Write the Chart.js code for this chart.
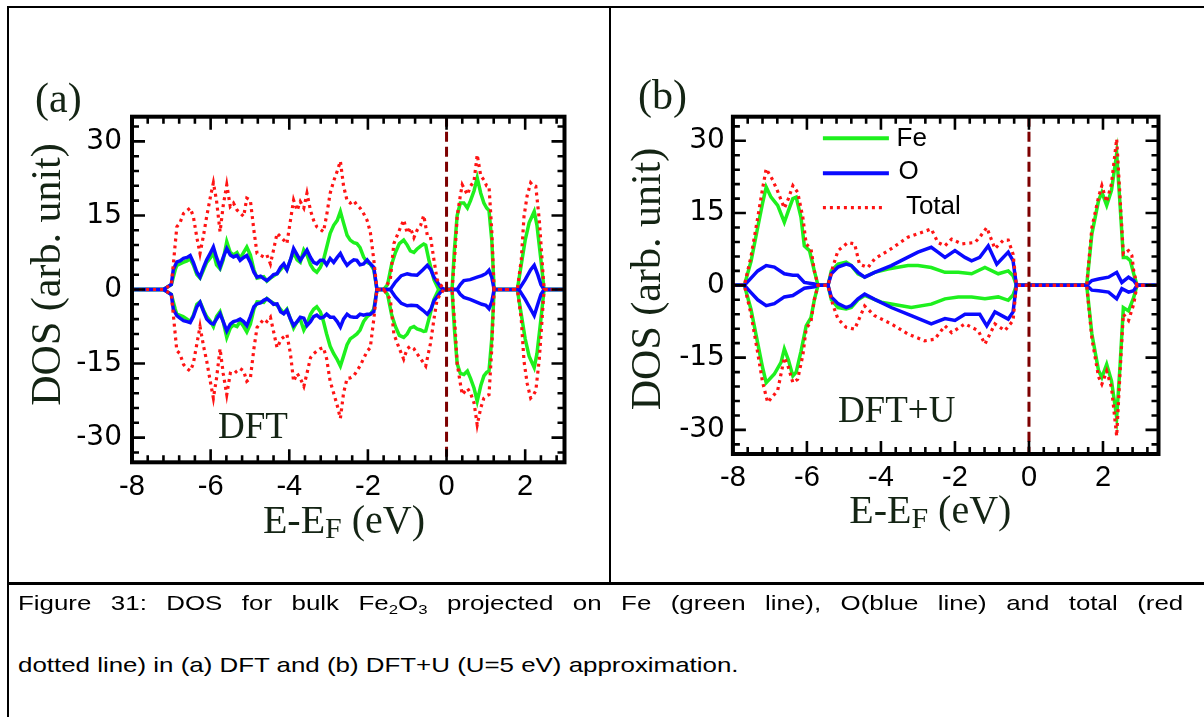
<!DOCTYPE html>
<html><head><meta charset="utf-8">
<script src="https://cdn.jsdelivr.net/npm/chart.js@4.4.1/dist/chart.umd.min.js"></script>
<style>
html,body{margin:0;padding:0;background:#fff;width:1204px;height:717px;overflow:hidden;position:relative;}
canvas{position:absolute;top:0;}
.ln{position:absolute;background:#000;}
.pl{position:absolute;font-family:"Liberation Serif","Times New Roman",serif;font-size:42px;line-height:42px;color:#142414;white-space:nowrap;}
.cap{position:absolute;left:17.7px;font-family:"Liberation Sans",Arial,sans-serif;font-size:21px;line-height:21px;color:#000;white-space:nowrap;transform:scaleX(1.233);transform-origin:0 0;}
.cap sub{font-size:13.6px;line-height:0;vertical-align:-3.5px;}
</style></head><body>
<canvas id="ca" width="608" height="582" style="left:0"></canvas>
<canvas id="cb" width="594" height="582" style="left:610px"></canvas>
<div class="ln" style="left:7px;top:6px;width:1197px;height:2px"></div>
<div class="ln" style="left:7px;top:6px;width:2px;height:711px"></div>
<div class="ln" style="left:608.5px;top:6px;width:2.5px;height:578px"></div>
<div class="ln" style="left:7px;top:582px;width:1197px;height:3px"></div>
<div class="pl" style="left:35px;top:77px">(a)</div>
<div class="pl" style="left:638px;top:74px">(b)</div>
<div class="cap" style="top:591.7px;width:945px;white-space:normal;text-align:justify;text-align-last:justify">Figure 31: DOS for bulk Fe<sub>2</sub>O<sub>3</sub> projected on Fe (green line), O(blue line) and total (red</div>
<div class="cap" style="top:653.7px">dotted line) in (a) DFT and (b) DFT+U (U=5 eV) approximation.</div>
<script>
// ---------------- data ----------------
const SERIES_NAMES = ['Fe', 'O', 'Total'];
const X_TICKS = [-8, -6, -4, -2, 0, 2];
const Y_TICKS = [-30, -15, 0, 15, 30];
const FERMI_LEVEL = 0;

// panel (a) DFT : [energy (eV), DOS]
const A_TOT_UP = [[-8,0],[-7.2,0],[-7.0,1],[-6.95,5],[-6.86,12.7],[-6.78,13.5],[-6.69,15.4],[-6.6,16],[-6.52,16.5],[-6.44,14.8],[-6.35,10.5],[-6.27,7.3],[-6.18,11],[-6.1,14.8],[-6.0,19],[-5.93,21.6],[-5.85,18],[-5.76,11.7],[-5.68,17],[-5.59,21.2],[-5.5,16.8],[-5.42,17.5],[-5.33,16.1],[-5.25,15.5],[-5.16,14.8],[-5.08,18.5],[-4.99,18.1],[-4.9,12],[-4.82,7.3],[-4.65,6.6],[-4.57,7],[-4.48,5.2],[-4.4,8],[-4.31,11.4],[-4.2,10.5],[-4.14,10],[-4.06,9.3],[-3.97,14],[-3.89,18.1],[-3.8,16],[-3.72,17.8],[-3.63,16.5],[-3.55,19.5],[-3.46,16],[-3.38,14],[-3.3,12.7],[-3.21,12.2],[-3.13,11.7],[-3.05,15],[-2.96,19.5],[-2.87,22],[-2.78,24],[-2.7,26],[-2.62,21],[-2.53,18],[-2.45,17.5],[-2.36,18],[-2.28,17.1],[-2.2,16.5],[-2.11,15.4],[-2.02,14],[-1.94,11.7],[-1.85,6],[-1.77,0],[-1.6,0],[-1.43,2],[-1.34,9.3],[-1.2,12],[-1.09,14.1],[-1.0,11.4],[-0.92,12.5],[-0.83,10.5],[-0.75,12],[-0.66,13],[-0.58,15],[-0.49,11],[-0.41,10.7],[-0.32,6],[-0.24,2],[-0.07,0],[0.14,0],[0.22,8],[0.27,14.8],[0.35,19],[0.4,21.2],[0.48,20],[0.53,19.2],[0.61,20.9],[0.7,22],[0.78,27.3],[0.87,23],[0.95,22.2],[1.02,21],[1.08,20.9],[1.15,12],[1.21,0],[1.8,0],[1.9,6],[1.97,14.8],[2.05,19],[2.14,21.6],[2.2,21],[2.27,20.9],[2.36,14],[2.43,6],[2.48,0],[3,0]];
const A_TOT_DN = [[-8,0],[-7.2,0],[-7.0,-1],[-6.95,-5],[-6.86,-12.4],[-6.78,-13],[-6.69,-15.2],[-6.6,-16],[-6.52,-16.5],[-6.44,-15],[-6.35,-11],[-6.27,-7.5],[-6.18,-11.5],[-6.1,-14.5],[-6.0,-19],[-5.93,-22],[-5.85,-18],[-5.76,-12],[-5.68,-17],[-5.59,-21.3],[-5.5,-17],[-5.42,-17.2],[-5.33,-16.5],[-5.25,-16],[-5.16,-16.5],[-5.08,-18.6],[-4.99,-18],[-4.9,-12],[-4.82,-7.7],[-4.65,-6],[-4.57,-6.5],[-4.48,-5.6],[-4.4,-8.5],[-4.31,-11.8],[-4.2,-10],[-4.06,-9.1],[-3.97,-13],[-3.89,-18.6],[-3.8,-17],[-3.72,-18],[-3.63,-19.6],[-3.55,-17],[-3.46,-13.8],[-3.38,-13],[-3.3,-12.5],[-3.21,-12],[-3.13,-11.8],[-3.05,-14],[-2.96,-18.6],[-2.87,-21],[-2.78,-23.5],[-2.7,-26.1],[-2.62,-21],[-2.53,-18],[-2.45,-17.9],[-2.36,-17.5],[-2.28,-16.5],[-2.2,-15.5],[-2.11,-14],[-2.02,-12.5],[-1.94,-11.8],[-1.85,-6],[-1.77,0],[-1.6,0],[-1.43,-2],[-1.34,-9],[-1.2,-12],[-1.09,-14.1],[-1.0,-12],[-0.92,-11.5],[-0.83,-12],[-0.75,-13],[-0.66,-14],[-0.53,-15.5],[-0.41,-11],[-0.32,-6],[-0.24,-2],[-0.07,0],[0.14,0],[0.22,-8],[0.27,-15],[0.35,-19],[0.4,-21.3],[0.48,-20.5],[0.53,-20],[0.61,-21],[0.7,-23],[0.78,-27.4],[0.87,-24],[0.95,-22],[1.02,-21.5],[1.08,-21.3],[1.15,-12],[1.21,0],[1.8,0],[1.9,-6],[1.97,-14.5],[2.05,-19],[2.14,-22],[2.2,-21.5],[2.27,-20.5],[2.36,-14],[2.43,-6],[2.48,0],[3,0]];
const A_FE_UP = [[-8,0],[-7.2,0],[-7.0,1],[-6.9,4],[-6.86,4.9],[-6.7,5.5],[-6.6,5.8],[-6.52,6.2],[-6.44,5],[-6.35,3],[-6.27,2.3],[-6.18,4],[-6.1,5.5],[-6.0,6.5],[-5.93,7.5],[-5.85,5],[-5.76,4.2],[-5.68,6],[-5.59,9.7],[-5.5,7.5],[-5.42,7],[-5.33,7.5],[-5.25,6.3],[-5.16,7.5],[-5.08,8.6],[-4.99,7],[-4.9,4],[-4.82,2.3],[-4.65,2.6],[-4.57,1.7],[-4.48,2.3],[-4.31,3.2],[-4.14,4.8],[-4.06,4],[-3.97,6],[-3.89,7.5],[-3.8,6],[-3.72,5.5],[-3.63,8],[-3.55,7],[-3.46,5],[-3.38,4],[-3.3,3.5],[-3.21,4.5],[-3.13,6],[-3.05,8.5],[-2.96,11.4],[-2.87,13],[-2.78,14],[-2.7,15.8],[-2.62,13.5],[-2.53,11],[-2.45,10],[-2.36,9.5],[-2.28,9.3],[-2.2,8.5],[-2.11,6.6],[-2.02,5.5],[-1.94,5.2],[-1.85,4],[-1.77,0],[-1.6,0],[-1.5,1],[-1.4,5],[-1.3,7.5],[-1.2,9.3],[-1.09,10],[-1.0,9],[-0.92,7.8],[-0.83,7.5],[-0.75,8.2],[-0.66,8.8],[-0.58,9.2],[-0.53,9],[-0.45,6],[-0.32,2],[-0.2,0],[0.14,0],[0.2,8],[0.27,15],[0.35,17.5],[0.44,17.5],[0.53,16.5],[0.61,18],[0.7,20],[0.78,22.6],[0.87,19.5],[0.95,17.5],[1.02,16.5],[1.08,16],[1.15,10],[1.21,0],[1.8,0],[1.9,5],[2.0,10],[2.1,13.5],[2.23,15.8],[2.3,13],[2.4,6],[2.48,0],[3,0]];
const A_FE_DN = [[-8,0],[-7.2,0],[-7.0,-1],[-6.9,-4],[-6.86,-5],[-6.7,-5.5],[-6.6,-6],[-6.52,-6.5],[-6.44,-5.2],[-6.35,-3],[-6.27,-2.5],[-6.18,-4.2],[-6.1,-5.5],[-6.0,-6.5],[-5.93,-7.5],[-5.85,-5.5],[-5.76,-4.5],[-5.68,-6.5],[-5.59,-9.7],[-5.5,-7.8],[-5.42,-7.2],[-5.33,-7.5],[-5.25,-6.5],[-5.16,-7.5],[-5.08,-8.6],[-4.99,-7],[-4.9,-4],[-4.82,-2.5],[-4.65,-2.6],[-4.57,-1.8],[-4.48,-2.4],[-4.31,-3.2],[-4.14,-4.8],[-4.06,-4],[-3.97,-6],[-3.89,-7.8],[-3.8,-6.5],[-3.72,-6],[-3.63,-8.2],[-3.55,-7],[-3.46,-5],[-3.38,-4],[-3.3,-3.5],[-3.21,-4.5],[-3.13,-6.5],[-3.05,-9],[-2.96,-11.5],[-2.87,-13],[-2.78,-14.2],[-2.7,-15.5],[-2.62,-13.5],[-2.53,-11.2],[-2.45,-10],[-2.36,-9.5],[-2.28,-9],[-2.2,-8.2],[-2.11,-6.5],[-2.02,-5.5],[-1.94,-5],[-1.85,-4],[-1.77,0],[-1.6,0],[-1.5,-1],[-1.4,-5],[-1.3,-7.5],[-1.2,-9.3],[-1.09,-9.7],[-1.0,-9],[-0.92,-7.8],[-0.83,-7.5],[-0.75,-8],[-0.66,-8.2],[-0.58,-8.5],[-0.53,-8.4],[-0.45,-6],[-0.32,-2],[-0.2,0],[0.14,0],[0.2,-8],[0.27,-15],[0.35,-17],[0.44,-17.2],[0.53,-16.5],[0.61,-18],[0.7,-20],[0.78,-22.6],[0.87,-19.5],[0.95,-17.5],[1.02,-16.8],[1.08,-16.5],[1.15,-10],[1.21,0],[1.8,0],[1.9,-5],[2.0,-10],[2.1,-13.5],[2.23,-15.8],[2.3,-13],[2.4,-6],[2.48,0],[3,0]];
const A_O_UP = [[-8,0],[-7.2,0],[-7.0,1],[-6.95,4],[-6.86,5.6],[-6.78,5.8],[-6.69,6.3],[-6.6,6.5],[-6.52,6.9],[-6.44,5.5],[-6.35,3.5],[-6.27,2.5],[-6.18,4.5],[-6.1,6],[-6.0,7.5],[-5.93,8.6],[-5.85,6.5],[-5.76,4.6],[-5.68,6.5],[-5.59,8.3],[-5.5,7],[-5.42,6.6],[-5.33,6.9],[-5.25,5.9],[-5.16,6.5],[-5.08,6.9],[-4.99,5.5],[-4.9,3.5],[-4.82,2.5],[-4.73,2.7],[-4.65,2.2],[-4.57,1.8],[-4.48,2.4],[-4.4,3],[-4.31,3.2],[-4.22,4.5],[-4.14,5.2],[-4.06,4],[-3.97,6],[-3.89,8.3],[-3.8,7],[-3.72,5.9],[-3.63,7],[-3.55,8],[-3.46,6.5],[-3.38,5.5],[-3.3,5.2],[-3.21,5.9],[-3.13,5.9],[-3.05,5],[-2.96,6.3],[-2.87,5.5],[-2.78,6.5],[-2.7,7.3],[-2.62,6],[-2.53,4.9],[-2.45,5.5],[-2.36,6],[-2.28,5.9],[-2.2,5],[-2.11,5.2],[-2.02,6],[-1.94,5.2],[-1.85,4.5],[-1.77,0],[-1.43,0],[-1.3,1.5],[-1.15,2.8],[-1.0,3.2],[-0.9,3],[-0.75,2.9],[-0.6,4],[-0.49,4.9],[-0.4,4],[-0.32,2.5],[-0.15,0.5],[-0.07,0],[0.27,0],[0.35,1],[0.44,1.8],[0.6,2],[0.78,2.5],[0.9,2.8],[1.0,3.2],[1.08,3.9],[1.15,2.5],[1.21,0],[1.84,0],[2.0,2],[2.14,4],[2.23,4.9],[2.32,3],[2.4,1],[2.48,0],[3,0]];
const A_O_DN = [[-8,0],[-7.2,0],[-7.0,-1],[-6.95,-4],[-6.86,-5.3],[-6.78,-5.8],[-6.69,-6.3],[-6.6,-6.5],[-6.52,-6.7],[-6.44,-5.5],[-6.35,-3.5],[-6.27,-2.6],[-6.18,-4.5],[-6.1,-6],[-6.0,-6.8],[-5.93,-7],[-5.85,-6],[-5.76,-4.9],[-5.68,-6.5],[-5.59,-8.4],[-5.5,-7],[-5.42,-6.5],[-5.33,-6.3],[-5.25,-6],[-5.16,-6.5],[-5.08,-7.3],[-4.99,-5.5],[-4.9,-3.5],[-4.82,-2.9],[-4.73,-2.7],[-4.65,-2.2],[-4.57,-1.9],[-4.48,-2.4],[-4.4,-3],[-4.31,-2.9],[-4.22,-4.5],[-4.14,-4.9],[-4.06,-4.2],[-3.97,-6],[-3.89,-7.3],[-3.8,-6.5],[-3.72,-5.6],[-3.63,-5.8],[-3.55,-7.3],[-3.46,-6.5],[-3.38,-5.5],[-3.3,-5.2],[-3.21,-5.8],[-3.13,-5.6],[-3.05,-5],[-2.96,-5.6],[-2.87,-5.6],[-2.78,-6.5],[-2.7,-7.6],[-2.62,-6],[-2.53,-5],[-2.45,-5.5],[-2.36,-5.6],[-2.28,-5.6],[-2.2,-5],[-2.11,-5.2],[-2.02,-5],[-1.94,-5],[-1.85,-4.5],[-1.77,0],[-1.43,0],[-1.3,-1.5],[-1.15,-2.8],[-1.0,-3.3],[-0.9,-3.2],[-0.75,-3.3],[-0.6,-4.2],[-0.49,-5],[-0.4,-4],[-0.32,-2.3],[-0.15,-0.5],[-0.07,0],[0.27,0],[0.35,-1],[0.44,-1.6],[0.6,-2],[0.78,-2.6],[0.9,-3],[1.0,-3.2],[1.08,-3.9],[1.15,-2.5],[1.21,0],[1.84,0],[2.0,-2],[2.14,-4],[2.23,-5.3],[2.32,-3],[2.4,-1],[2.48,0],[3,0]];

// panel (b) DFT+U : [energy (eV), DOS]
const B_TOT_UP = [[-8,0],[-7.69,0],[-7.51,6],[-7.33,14],[-7.2,20],[-7.1,24.2],[-6.92,21.8],[-6.79,19.5],[-6.61,16],[-6.5,18],[-6.38,20.7],[-6.25,19.3],[-6.11,14.1],[-6.02,8.6],[-5.89,7.6],[-5.8,3],[-5.7,0],[-5.43,0],[-5.3,3.8],[-5.16,7.2],[-4.89,8.9],[-4.71,8.6],[-4.58,4.4],[-4.35,3.7],[-4.17,5.5],[-3.72,7.6],[-3.27,10],[-3.0,10.7],[-2.64,11.7],[-2.46,8.9],[-2.27,8.2],[-2.09,9.6],[-1.82,8.6],[-1.46,8.9],[-1.33,10],[-1.14,12],[-0.92,7.6],[-0.69,9.4],[-0.56,9.4],[-0.43,6.5],[-0.34,0],[1.56,0],[1.7,12],[1.88,18.3],[1.97,20.7],[2.1,17.3],[2.23,21.1],[2.37,30.4],[2.46,18.3],[2.55,6.5],[2.69,7.2],[2.78,6.2],[2.83,3],[2.92,0],[3.5,0]];
const B_TOT_DN = [[-8,0],[-7.69,0],[-7.51,-6],[-7.33,-14],[-7.2,-20],[-7.06,-24.3],[-6.79,-21.8],[-6.61,-15],[-6.5,-17],[-6.38,-20.2],[-6.25,-19.5],[-6.11,-14.5],[-6.02,-9],[-5.89,-7.5],[-5.8,-3],[-5.7,0],[-5.43,0],[-5.3,-4],[-5.16,-7],[-4.94,-8.7],[-4.71,-9.1],[-4.44,-4.3],[-4.17,-6.3],[-3.72,-8],[-3.27,-10.1],[-2.82,-11.5],[-2.55,-11.2],[-2.27,-8.4],[-2.09,-9.8],[-1.73,-8],[-1.37,-9.4],[-1.19,-12.2],[-0.92,-8],[-0.65,-9.4],[-0.43,-7.3],[-0.34,0],[1.56,0],[1.7,-11],[1.88,-19],[1.97,-20.5],[2.1,-17.8],[2.23,-21.2],[2.37,-31.3],[2.46,-18.2],[2.55,-6],[2.69,-7.3],[2.83,-3.9],[2.92,0],[3.5,0]];
const B_FE_UP = [[-8,0],[-7.69,0],[-7.51,5],[-7.33,12],[-7.2,17],[-7.1,20.4],[-6.97,18.3],[-6.79,16.6],[-6.61,13.1],[-6.5,15.5],[-6.38,18],[-6.29,18.3],[-6.16,14.1],[-6.07,8.2],[-5.93,7.2],[-5.8,3],[-5.7,0],[-5.43,0],[-5.34,3],[-5.16,4.4],[-4.94,4.8],[-4.8,4.1],[-4.62,2.4],[-4.44,1.7],[-4.17,2.7],[-3.81,3.4],[-3.27,4.1],[-3.0,4.1],[-2.64,3.7],[-2.27,2.7],[-1.91,2.7],[-1.55,2.4],[-1.19,3.7],[-0.83,2.4],[-0.56,3],[-0.43,2],[-0.34,0],[1.56,0],[1.7,10.7],[1.88,17.6],[1.97,19.3],[2.1,16.6],[2.23,19.7],[2.37,27.3],[2.46,16.9],[2.55,5.8],[2.64,5.8],[2.74,5.1],[2.83,2.4],[2.92,0],[3.5,0]];
const B_FE_DN = [[-8,0],[-7.69,0],[-7.51,-5],[-7.33,-12],[-7.2,-17],[-7.1,-20.2],[-6.88,-18.4],[-6.7,-16],[-6.61,-13.2],[-6.5,-15.5],[-6.38,-18.8],[-6.29,-18],[-6.16,-13.7],[-6.02,-8.4],[-5.89,-6.7],[-5.8,-3],[-5.7,0],[-5.43,0],[-5.34,-3],[-5.16,-4.6],[-4.94,-4.9],[-4.8,-4.6],[-4.62,-3],[-4.44,-2.1],[-3.99,-3.5],[-3.18,-4.6],[-2.64,-3.9],[-2.27,-2.8],[-1.91,-2.4],[-1.55,-2.4],[-1.19,-2.8],[-0.83,-2.4],[-0.56,-3.1],[-0.43,-2],[-0.34,0],[1.56,0],[1.7,-10.1],[1.88,-17.7],[1.97,-19.1],[2.1,-16.4],[2.23,-19.8],[2.37,-27.4],[2.46,-16.8],[2.55,-4.6],[2.69,-5.3],[2.83,-2.5],[2.92,0],[3.5,0]];
const B_O_UP = [[-8,0],[-7.69,0],[-7.51,1.5],[-7.33,3],[-7.1,4.1],[-6.88,3.8],[-6.61,2.4],[-6.38,2.1],[-6.25,2.1],[-6.07,0.6],[-5.8,0.3],[-5.7,0],[-5.43,0],[-5.34,2.4],[-5.16,3.8],[-4.94,4.4],[-4.8,4.1],[-4.62,2.7],[-4.44,1.7],[-4.17,2.7],[-3.72,4.1],[-3.36,5.5],[-3.0,6.9],[-2.64,7.9],[-2.46,6.9],[-2.27,5.8],[-2.0,7.2],[-1.73,5.8],[-1.55,5.1],[-1.33,5.8],[-1.1,8.2],[-0.87,4.4],[-0.56,6.9],[-0.43,5.1],[-0.34,0],[1.56,0],[1.7,1],[1.88,1.3],[2.15,1.7],[2.37,2.7],[2.51,0.6],[2.69,1.7],[2.83,1],[2.92,0],[3.5,0]];
const B_O_DN = [[-8,0],[-7.69,0],[-7.51,-1.5],[-7.33,-3],[-7.1,-4.2],[-6.88,-3.8],[-6.61,-2.4],[-6.38,-2.1],[-6.07,-0.6],[-5.8,-0.3],[-5.7,0],[-5.43,0],[-5.34,-2.4],[-5.16,-3.8],[-4.94,-4.6],[-4.8,-4.2],[-4.62,-2.8],[-4.44,-1.8],[-4.17,-2.9],[-3.72,-4.6],[-3.18,-6.3],[-2.64,-8],[-2.27,-6.9],[-2.0,-7.3],[-1.73,-6],[-1.33,-6],[-1.14,-8.4],[-0.92,-5.5],[-0.56,-7],[-0.43,-5.5],[-0.34,0],[1.56,0],[1.7,-1],[1.88,-1.1],[2.15,-1.4],[2.37,-2.8],[2.51,-0.7],[2.69,-1.4],[2.83,-1.1],[2.92,0],[3.5,0]];

// ---------------- styling / layout ----------------
const COLORS = { Fe: '#1ef01e', O: '#0a0aff', Total: '#ff1414' };
const SERIF = '"Liberation Serif", "Times New Roman", serif';
const SANS = '"Liberation Sans", Arial, sans-serif';
const TITLE_COLOR = '#142414';

function ds(pairs, name) {
  const dotted = name === 'Total';
  return {
    label: name,
    data: pairs.map(p => ({ x: p[0], y: p[1] })),
    showLine: true,
    borderColor: COLORS[name],
    backgroundColor: COLORS[name],
    borderWidth: dotted ? 3.2 : 3.5,
    borderDash: dotted ? [3, 4] : [],
    pointRadius: 0,
    fill: false,
    tension: 0
  };
}

const decor = {
  id: 'decor',
  afterDatasetsDraw(chart, args, o) {
    const { ctx, chartArea: ca, scales: { x, y } } = chart;
    ctx.save();
    // Fermi level
    const xf = x.getPixelForValue(FERMI_LEVEL);
    ctx.beginPath();
    ctx.setLineDash([10, 5]);
    ctx.lineWidth = 3;
    ctx.strokeStyle = '#7d0000';
    ctx.moveTo(xf, ca.top); ctx.lineTo(xf, ca.bottom);
    ctx.stroke();
    ctx.setLineDash([]);
    // inward ticks
    ctx.strokeStyle = '#000';
    ctx.lineWidth = 2.6;
    ctx.beginPath();
    for (let k = 0; ; k++) {
      const v = x.min + k * 0.4;
      if (v > x.max + 1e-6) break;
      const px = x.getPixelForValue(v);
      const L = (k % 5 === 0) ? 13 : 7;
      ctx.moveTo(px, ca.bottom); ctx.lineTo(px, ca.bottom - L);
      ctx.moveTo(px, ca.top); ctx.lineTo(px, ca.top + L);
    }
    for (let v = -33; v <= 33; v += 3) {
      const py = y.getPixelForValue(v);
      const L = (v % 15 === 0) ? 13 : 7;
      ctx.moveTo(ca.left, py); ctx.lineTo(ca.left + L, py);
      ctx.moveTo(ca.right, py); ctx.lineTo(ca.right - L, py);
    }
    ctx.stroke();
    // frame
    ctx.lineWidth = 4;
    ctx.strokeRect(ca.left, ca.top, ca.right - ca.left, ca.bottom - ca.top);
    // y title
    ctx.fillStyle = TITLE_COLOR;
    ctx.textAlign = 'center';
    ctx.textBaseline = 'alphabetic';
    ctx.font = '42px ' + SERIF;
    ctx.save();
    ctx.translate(ca.left - 72.5, ca.top + o.yTitleDy);
    ctx.rotate(-Math.PI / 2);
    ctx.fillText('DOS (arb. unit)', 0, 0);
    ctx.restore();
    // x title with subscript
    ctx.textAlign = 'left';
    const big = '40px ' + SERIF, small = '30px ' + SERIF;
    ctx.font = big; const w1 = ctx.measureText('E-E').width; const w3 = ctx.measureText(' (eV)').width;
    ctx.font = small; const w2 = ctx.measureText('F').width;
    let sx = ca.left + o.xTitleCx - (w1 + w2 + w3) / 2;
    const by = ca.bottom + o.xTitleDy;
    ctx.font = big; ctx.fillText('E-E', sx, by); sx += w1;
    ctx.font = small; ctx.fillText('F', sx, by + 5); sx += w2;
    ctx.font = big; ctx.fillText(' (eV)', sx, by);
    // inset method label
    ctx.font = '37px ' + SERIF;
    ctx.fillText(o.method, ca.left + o.methodX, ca.top + o.methodY);
    // legend
    if (o.legend) {
      const rows = [[21.6, 22.3, 163.7, 156], [56.6, 55.5, 165.6, 156], [91, 89.8, 173, 152]];
      SERIES_NAMES.forEach((name, i) => {
        const [ly, ty, tx, lx2] = rows[i];
        ctx.beginPath();
        ctx.strokeStyle = COLORS[name];
        ctx.lineWidth = name === 'Total' ? 3.2 : 4;
        ctx.setLineDash(name === 'Total' ? [3, 4] : []);
        ctx.moveTo(ca.left + 90, ca.top + ly); ctx.lineTo(ca.left + lx2, ca.top + ly);
        ctx.stroke();
        ctx.setLineDash([]);
        ctx.fillStyle = '#000';
        ctx.font = '26px ' + SANS;
        ctx.textBaseline = 'middle';
        ctx.fillText(name, ca.left + tx, ca.top + ty);
      });
    }
    ctx.restore();
  }
};

function makeChart(id, s, P) {
  return new Chart(document.getElementById(id), {
    type: 'scatter',
    data: { datasets: [
      ds(s.totUp, 'Total'), ds(s.totDn, 'Total'),
      ds(s.oUp, 'O'), ds(s.oDn, 'O'),
      ds(s.feUp, 'Fe'), ds(s.feDn, 'Fe')
    ] },
    options: {
      responsive: false, animation: false, events: [],
      layout: { padding: { top: P.top, right: P.right, left: 0, bottom: 0 } },
      plugins: { legend: { display: false }, tooltip: { enabled: false }, decor: P },
      scales: {
        x: {
          type: 'linear', position: 'bottom', min: P.xMin, max: P.xMax,
          grid: { display: false, drawTicks: false }, border: { display: false },
          ticks: { autoSkip: false, maxRotation: 0, padding: P.xPad, color: '#000', font: { family: SANS, size: 29 } },
          afterBuildTicks: sc => { sc.ticks = X_TICKS.map(v => ({ value: v })); },
          afterFit: sc => { sc.height = P.xH; }
        },
        y: {
          type: 'linear', position: 'left', min: -35, max: 35,
          grid: { display: false, drawTicks: false }, border: { display: false },
          ticks: { padding: P.yPad, color: '#000', font: { family: '"DejaVu Sans", sans-serif', size: 28 } },
          afterBuildTicks: sc => { sc.ticks = Y_TICKS.map(v => ({ value: v })); },
          afterFit: sc => { sc.width = P.yW; }
        }
      }
    },
    plugins: [decor]
  });
}

makeChart('ca',
  { totUp: A_TOT_UP, totDn: A_TOT_DN, oUp: A_O_UP, oDn: A_O_DN, feUp: A_FE_UP, feDn: A_FE_DN },
  { top: 116.7, right: 43.5, yW: 132, xH: 119.7, xPad: 7.3, yPad: 10, xMin: -8, xMax: 3,
    yTitleDy: 157.8, xTitleCx: 212, xTitleDy: 71, method: 'DFT', methodX: 86, methodY: 321.3, legend: false });
makeChart('cb',
  { totUp: B_TOT_UP, totDn: B_TOT_DN, oUp: B_O_UP, oDn: B_O_DN, feUp: B_FE_UP, feDn: B_FE_DN },
  { top: 116.7, right: 45.5, yW: 122.9, xH: 128, xPad: 6.1, yPad: 8, xMin: -8, xMax: 3.5,
    yTitleDy: 162.3, xTitleCx: 197.4, xTitleDy: 69, method: 'DFT+U', methodX: 105, methodY: 305.3, legend: true });
</script>
</body></html>
